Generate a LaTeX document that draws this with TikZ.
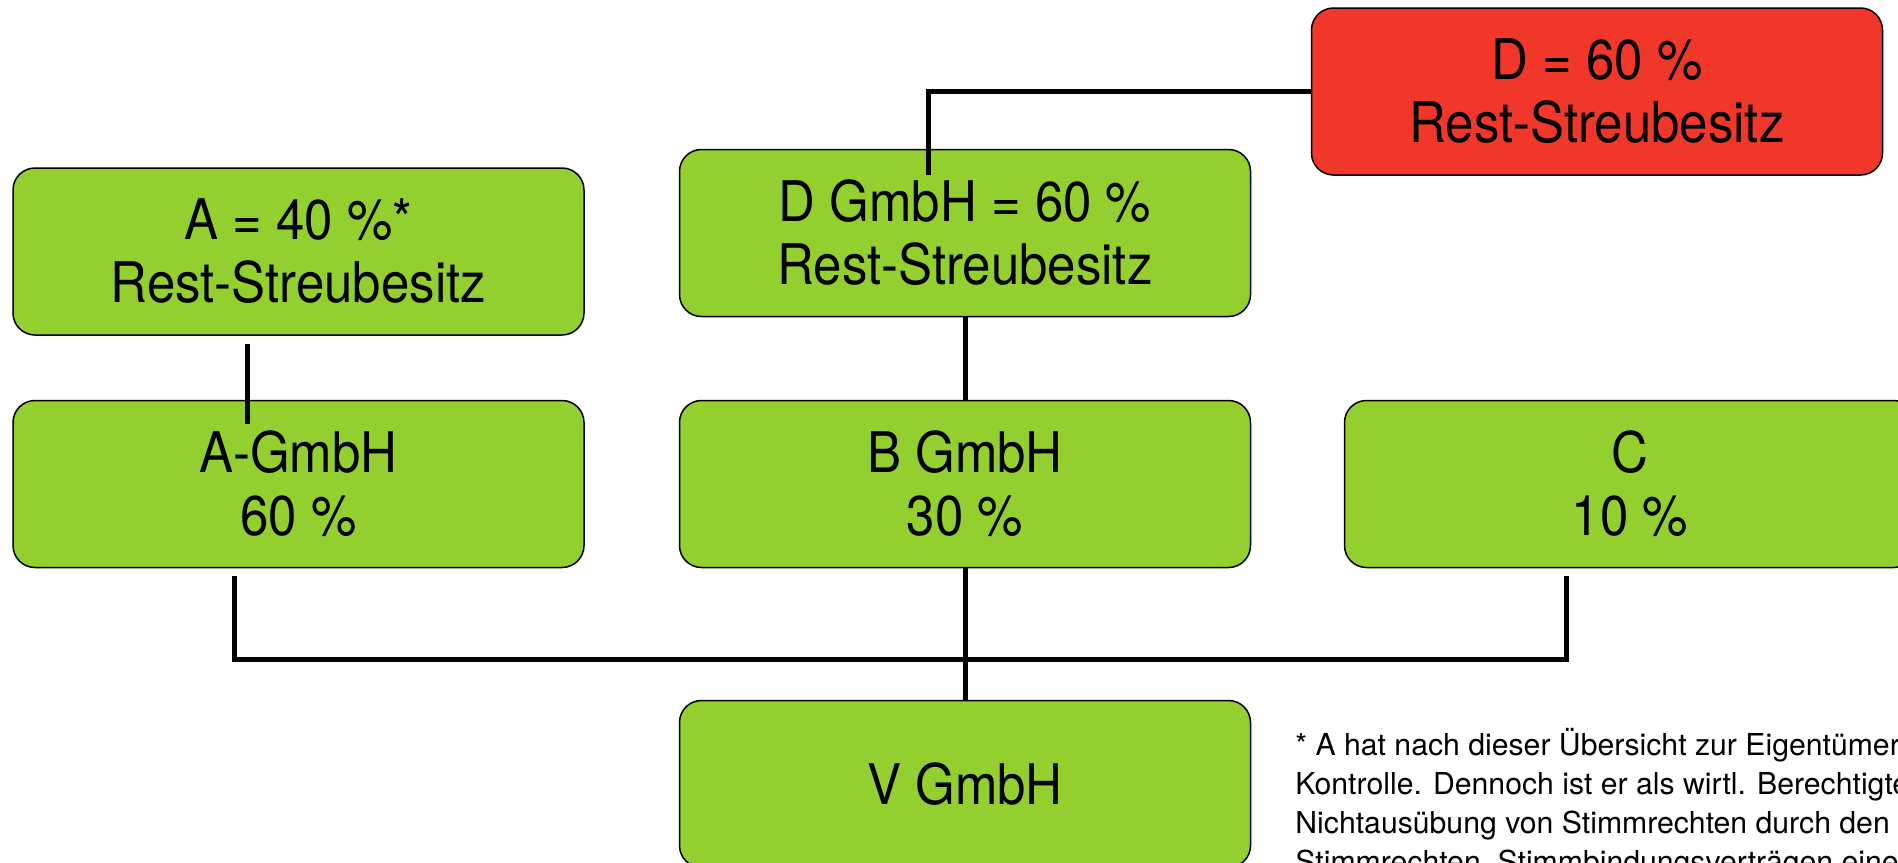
\documentclass[tikz,border=0pt]{standalone}
\usepackage{fontspec}
\setmainfont[FakeStretch=0.91]{TeX Gyre Heros}
\newfontfamily\notefont{TeX Gyre Heros}
\definecolor{boxgreen}{HTML}{94CF30}
\definecolor{boxred}{HTML}{F0372A}
\begin{document}
\begin{tikzpicture}[x=0.5pt,y=-0.5pt]
\tikzstyle{mybox} = [draw, line width=0.75pt, rounded corners=11pt, fill=boxgreen,
  minimum width=285.5pt, minimum height=83.5pt, inner sep=0pt, align=center,
  font=\fontsize{28}{31.5}\selectfont]
\tikzstyle{redbox} = [mybox, fill=boxred]
\tikzstyle{myline} = [line width=2.5pt]
\tikzstyle{note} = [anchor=north west, inner sep=0pt, align=left,
  font=\notefont\fontsize{15.1}{19.5}\selectfont]
\path[use as bounding box, clip] (0,0) rectangle (1898,862);
% owners
\node[mybox] (A) at (298.5,251.5) {A = 40 \%*\\Rest-Streubesitz};
\node[mybox] (DG) at (965,233) {D GmbH = 60 \%\\Rest-Streubesitz};
\node[redbox] (D) at (1597,91.5) {D = 60 \%\\Rest-Streubesitz};
% shareholders
\node[mybox] (AG) at (298.5,484) {A-GmbH\\60 \%};
\node[mybox] (B) at (965,484) {B GmbH\\30 \%};
\node[mybox] (C) at (1630,484) {C\\10 \%};
% company
\node[mybox] (V) at (965,784) {V GmbH};
\node[note] (fn) at (1295,728) {* A hat nach dieser Übersicht zur Eigentümerstruktur\\
  Kontrolle. Dennoch ist er als wirtl. Berechtigter\\
  Nichtausübung von Stimmrechten durch den\\
  Stimmrechten, Stimmbindungsverträgen eine};
% connections
\draw[myline] ([shift={(-51,8)}]A.south) -- ([shift={(-51,24)}]AG.north);
\draw[myline] ([shift={(-37,26)}]DG.north) |- (D.west);
\draw[myline] (DG.south) -- (B.north);
\draw[myline] ([shift={(-64,8)}]AG.south) -- ++(0,83) coordinate (bus)
  -| ([shift={(-64,8)}]C.south);
\draw[myline] (B.south) -- (V.north);
\end{tikzpicture}
\end{document}
